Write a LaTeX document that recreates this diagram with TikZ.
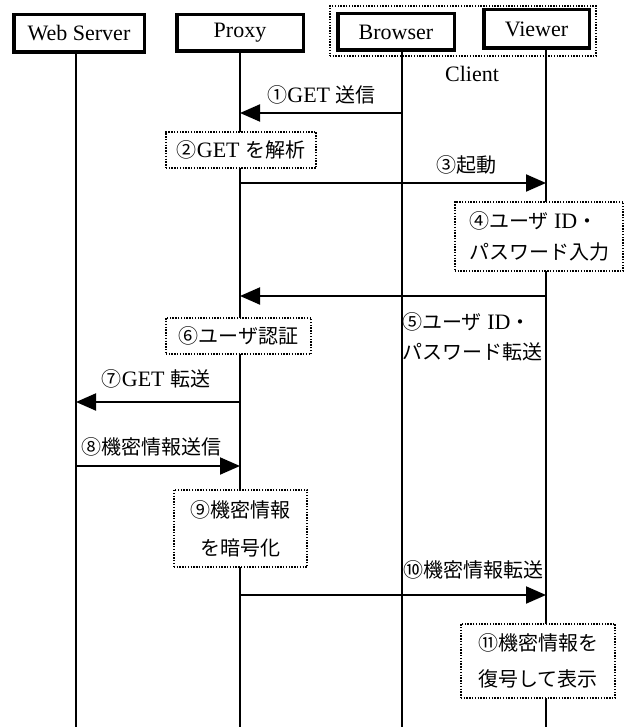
\documentclass[tikz,border=0pt]{standalone}
\usepackage{fontspec}
\setmainfont{Liberation Serif}[Scale=1.1]
\newfontfamily\jp{Noto Sans CJK JP}
\usetikzlibrary{arrows.meta}
\newcommand\J[1]{{\jp #1}}
\begin{document}
\begin{tikzpicture}[x=1pt,y=-1pt,
  font=\fontsize{20}{30}\selectfont,
  head/.style={draw, line width=3.5pt, fill=white, inner sep=0pt},
  life/.style={line width=1.8pt},
  msg/.style={line width=2pt, -{Triangle[length=20pt,width=17pt]}},
  note/.style={draw, line width=1.6pt, dash pattern=on 1.4pt off 1.4pt, fill=white, inner sep=0pt},
  lbl/.style={inner sep=0pt}]
\useasboundingbox (0,0) rectangle (630,727);
% client group
\node[draw, line width=1.6pt, dash pattern=on 1.4pt off 1.4pt, minimum width=266.4pt, minimum height=50.4pt, inner sep=0pt] (client) at (463,31) {};
\node[lbl] (clientlbl) at (472,74) {Client};
% lifeline ends
\coordinate (wsB) at (76,727);
\coordinate (prB) at (240,727);
\coordinate (brB) at (402,727);
\coordinate (viB) at (546,727);
% heads
\node[head, minimum width=130.5pt, minimum height=37.5pt] (ws) at (79,33.5) {Web Server};
\node[head, minimum width=126.5pt, minimum height=36.5pt] (pr) at (240,33) {Proxy};
\node[head, minimum width=116.5pt, minimum height=36.5pt] (br) at (396,32) {Browser};
\node[head, minimum width=105.5pt, minimum height=38.5pt] (vi) at (536.5,29) {Viewer};
% lifelines
\draw[life] (ws.south -| wsB) -- (wsB);
\draw[life] (pr.south -| prB) -- (prB);
\draw[life] (br.south -| brB) -- (brB);
\draw[life] (vi.south -| viB) -- (viB);
% message levels
\coordinate (y1) at (0,113);
\coordinate (y3) at (0,183);
\coordinate (y5) at (0,296);
\coordinate (y7) at (0,402);
\coordinate (y8) at (0,466);
\coordinate (y10) at (0,595);
% messages
\draw[msg] (brB |- y1) -- (prB |- y1);
\node[lbl] (l1) at (321.5,95) {\J{①}GET \J{送信}};
\draw[msg] (prB |- y3) -- (viB |- y3);
\node[lbl] (l3) at (466.5,165) {\J{③起動}};
\draw[msg] (viB |- y5) -- (prB |- y5);
\node[lbl, align=left, anchor=west] (l5) at (402,337) {\J{⑤ユーザ} ID\J{・}\\\J{パスワード転送}};
\draw[msg] (prB |- y7) -- (wsB |- y7);
\node[lbl] (l7) at (156,379) {\J{⑦}GET \J{転送}};
\draw[msg] (wsB |- y8) -- (prB |- y8);
\node[lbl] (l8) at (151,447) {\J{⑧機密情報送信}};
\draw[msg] (prB |- y10) -- (viB |- y10);
\node[lbl] (l10) at (473,570) {\J{⑩機密情報転送}};
% notes
\node[note, minimum width=150.4pt, minimum height=36.4pt] (n2) at (241,150) {\J{②}GET \J{を解析}};
\node[note, minimum width=168.4pt, minimum height=69.4pt, align=left, font=\fontsize{20}{31}\selectfont] (n4) at (539,236.5) {\J{④ユーザ} ID\J{・}\\\J{パスワード入力}};
\node[note, minimum width=145.4pt, minimum height=36.4pt] (n6) at (238.5,336) {\J{⑥ユーザ認証}};
\node[note, minimum width=133.4pt, minimum height=77.4pt, align=center, font=\fontsize{20}{38}\selectfont] (n9) at (240.5,528.5) {\J{⑨機密情報}\\\J{を暗号化}};
\node[note, minimum width=154.4pt, minimum height=74.4pt, align=center, font=\fontsize{20}{36}\selectfont] (n11) at (538,661) {\J{⑪機密情報を}\\\J{復号して表示}};
\end{tikzpicture}
\end{document}
